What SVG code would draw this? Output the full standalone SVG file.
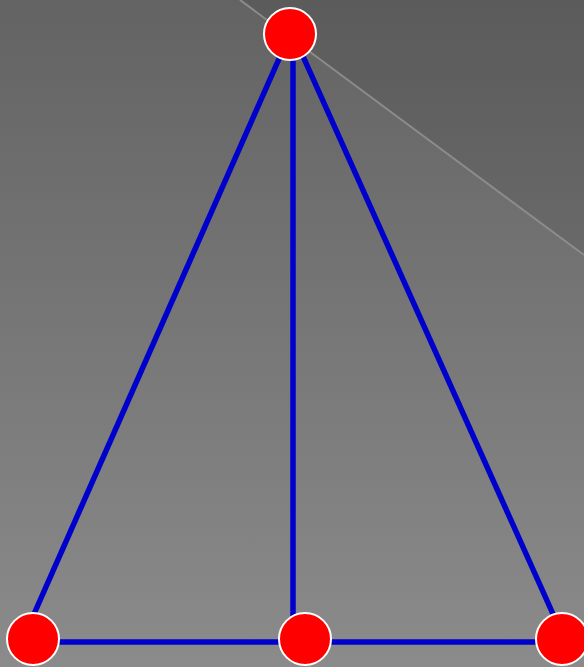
<svg xmlns="http://www.w3.org/2000/svg" width="584" height="667" viewBox="0 0 584 667">
<defs>
<linearGradient id="bg" x1="0" y1="0" x2="0" y2="1">
<stop offset="0" stop-color="#636363"/>
<stop offset="1" stop-color="#8b8b8b"/>
</linearGradient>
<style>
.edge{stroke:#0000cc;stroke-width:5.5;fill:none}
.node{fill:#ff0000;stroke:#ffffff;stroke-width:2}
</style>
</defs>
<rect x="0" y="0" width="584" height="667" fill="url(#bg)"/>
<polygon points="240,0 584,0 584,255" fill="#000000" fill-opacity="0.08"/>
<line x1="240" y1="0" x2="584" y2="255" stroke="#8c8c8c" stroke-width="2"/>
<g id="connectors">
<line class="edge" x1="290" y1="34" x2="34" y2="614"/>
<line class="edge" x1="293" y1="34" x2="293" y2="616"/>
<line class="edge" x1="293" y1="34" x2="553" y2="614"/>
<line class="edge" x1="33" y1="642" x2="562" y2="642"/>
</g>
<g id="node-top"><circle class="node" cx="290" cy="34" r="26"/></g>
<g id="node-bl"><circle class="node" cx="33" cy="639" r="26"/></g>
<g id="node-bm"><circle class="node" cx="305" cy="639" r="26"/></g>
<g id="node-br"><circle class="node" cx="562" cy="639" r="26"/></g>
</svg>
